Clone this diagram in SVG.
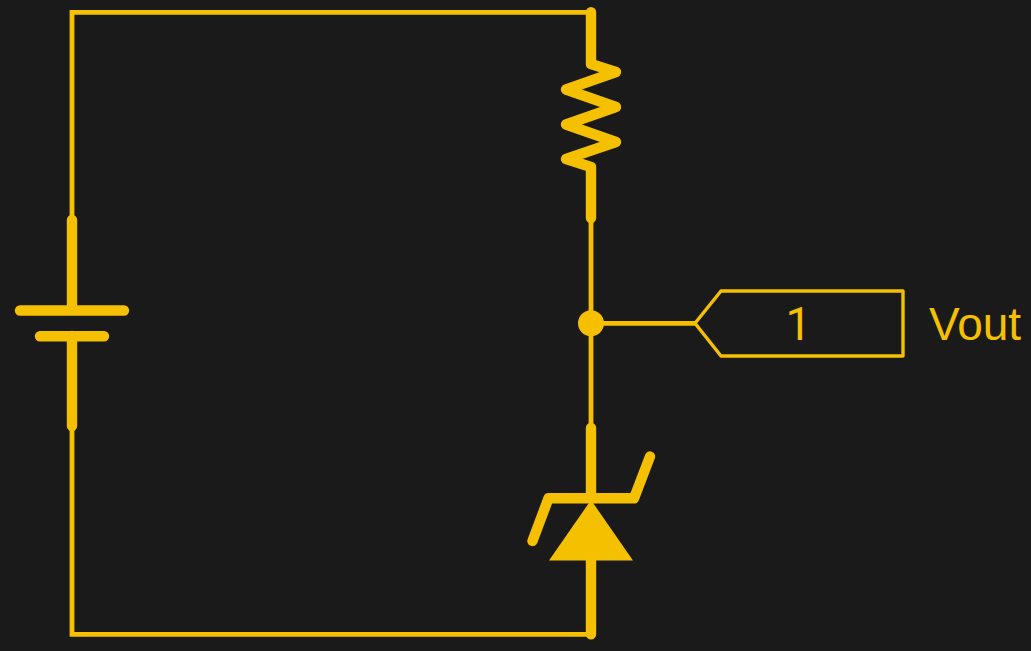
<svg xmlns="http://www.w3.org/2000/svg" width="1031" height="651" viewBox="0 0 1031 651">
<style>
.wire{fill:none;stroke:#f5c000;stroke-width:4.8;stroke-linecap:butt;stroke-linejoin:miter}
.thick{fill:none;stroke:#f5c000;stroke-width:10.4;stroke-linecap:round;stroke-linejoin:round}
.tag{fill:none;stroke:#f5c000;stroke-width:3.4;stroke-linejoin:round}
.solid{fill:#f5c000}
text{font-family:"Liberation Sans",Arial,sans-serif;font-size:46px;fill:#f5c000}
.num{font-family:Roboto,"Liberation Sans",sans-serif}
</style>
<rect width="1031" height="651" fill="#1a1a1a"/>
<g id="connectors">
<path class="wire" d="M591 12.300H72V220"/>
<path class="wire" d="M72 426V634.300H591"/>
<path class="wire" d="M591 218V428"/>
<path class="wire" d="M591 323.300H695"/>
</g>
<g id="battery">
<path class="thick" d="M72 220V310M20 310.500H124M40 336.300H104M72 336V426"/>
</g>
<g id="resistor">
<path class="thick" d="M591 12.300V64L616 72L566 89.500L616 107L566 124.500L616 142L566 159L591 167V218"/>
</g>
<g id="zener">
<path class="thick" d="M591 428V498.300M532.500 541L548.500 498.300H634L650 456.500M591 560V634.300"/>
<polygon class="solid" points="591,500 633,560.500 549,560.500"/>
</g>
<g id="junction">
<circle class="solid" cx="591" cy="323.300" r="13"/>
</g>
<g id="port">
<polygon class="tag" points="695,323.300 721,291 903,291 903,356 721,356"/>
<text class="num" x="798.500" y="340" text-anchor="middle">1</text>
</g>
<g id="label">
<text x="929" y="340">Vout</text>
</g>
</svg>
